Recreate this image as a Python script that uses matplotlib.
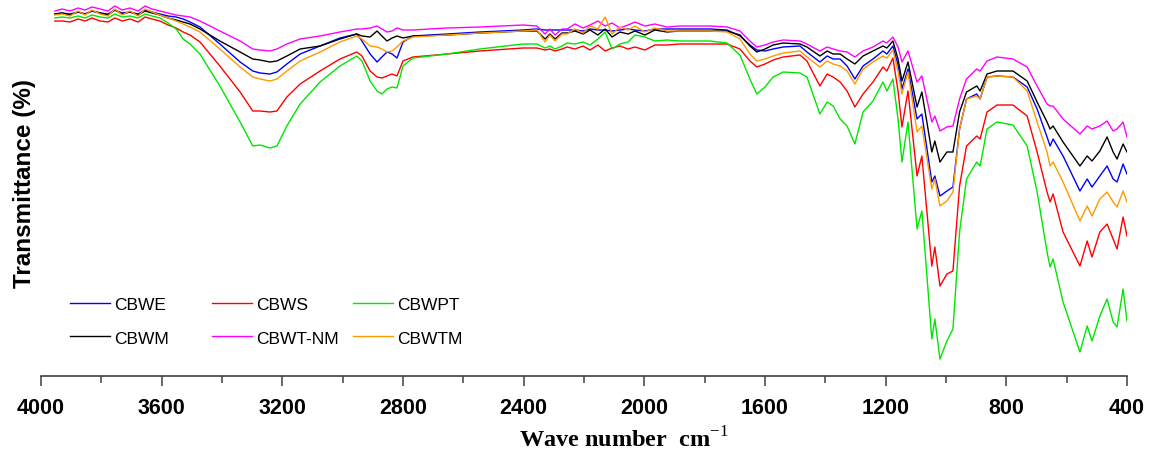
#!/usr/bin/env python3
"""FTIR spectra of the six CBW samples (transmittance vs wave number)."""

import matplotlib

matplotlib.use("Agg")

import matplotlib.pyplot as plt
from matplotlib.ticker import MultipleLocator

# wave numbers (cm-1), high -> low
wavenumber = [
    3954, 3930, 3904, 3877, 3854, 3831, 3804, 3778, 3755, 3731, 3705, 3678, 3655, 3632, 3606, 3579, 3552,
    3529, 3506,
    3473, 3407, 3340, 3298, 3274, 3241, 3218, 3185, 3141, 3075, 3009,
    2953, 2936, 2909, 2886, 2870, 2853, 2836, 2820, 2800, 2767,
    2654, 2545, 2402, 2356,
    2329, 2313, 2296, 2273,
    2256, 2230, 2203, 2180, 2154, 2130, 2107, 2081, 2054, 2031, 1998, 1965, 1925,
    1882, 1782, 1726,
    1683, 1650, 1627, 1600, 1573, 1540,
    1484, 1461, 1418, 1394, 1374, 1351, 1328, 1302, 1275, 1242,
    1209, 1196, 1176, 1159, 1146, 1126, 1096, 1080,
    1047, 1037, 1020, 997, 977, 955, 932, 898, 887, 864, 831,
    778, 731, 698, 665, 655, 645, 612,
    556, 532, 516, 490, 466, 446, 433, 413, 400,
]

# transmittance, arbitrary offset units (higher = more transmitting)
cbwe = [
    385, 386, 385, 387, 385, 388, 386, 385, 389, 386, 387, 385, 389, 387, 385, 383, 382,
    380, 377,
    372, 355, 337, 328, 326, 325, 327, 335, 345, 353, 361,
    365, 358, 345, 337, 342, 347, 345, 341, 357, 363,
    365, 367, 369, 370,
    369, 369, 369, 369,
    369, 369, 368, 370, 369, 369, 368, 369, 370, 369, 368, 370, 370,
    370, 370, 369,
    363, 354, 349, 348, 350, 352,
    353, 347, 337, 343, 340, 340, 333, 320, 333, 340,
    348, 345, 353, 334, 310, 330, 280, 285,
    217, 223, 203, 208, 212, 270, 300, 305, 300, 322, 323,
    322, 312, 290, 262, 253, 260, 243,
    208, 220, 212, 223, 233, 220, 217, 235, 225,
]
cbws = [
    378, 378, 377, 380, 378, 381, 378, 377, 381, 378, 380, 377, 382, 380, 378, 374, 371,
    367, 364,
    357, 333, 307, 288, 288, 287, 288, 302, 315, 328, 340,
    347, 343, 328, 322, 321, 323, 325, 323, 338, 342,
    345, 348, 351, 351,
    349, 350, 348, 350,
    352, 350, 353, 349, 354, 348, 351, 353, 350, 352, 349, 354, 354,
    355, 355, 355,
    350, 338, 332, 335, 339, 342,
    344, 338, 313, 325, 322, 317, 308, 292, 305, 317,
    332, 328, 341, 308, 272, 308, 223, 243,
    133, 152, 113, 125, 128, 213, 253, 263, 260, 287, 294,
    294, 283, 247, 207, 197, 205, 167,
    133, 158, 142, 167, 175, 160, 150, 182, 163,
]
cbwpt = [
    381, 382, 381, 383, 381, 384, 382, 381, 385, 382, 383, 381, 385, 383, 381, 376, 370,
    360, 355,
    345, 313, 277, 253, 254, 251, 253, 273, 295, 317, 333,
    343, 338, 318, 308, 305, 310, 312, 311, 333, 341,
    345, 350, 355, 355,
    351, 353, 350, 353,
    356, 355, 357, 354, 360, 367, 350, 355, 357, 364, 362, 358, 359,
    358, 358, 356,
    344, 320, 305, 312, 322, 327,
    326, 322, 285, 297, 293, 280, 273, 255, 287, 298,
    317, 308, 320, 280, 237, 277, 170, 188,
    60, 80, 40, 58, 70, 167, 220, 237, 233, 270, 277,
    274, 253, 207, 147, 132, 140, 97,
    47, 73, 58, 83, 100, 77, 72, 110, 78,
]
cbwm = [
    385, 386, 384, 387, 385, 388, 386, 384, 389, 385, 387, 384, 388, 386, 384, 381, 379,
    377, 375,
    370, 358, 347, 340, 339, 337, 338, 343, 350, 353, 360,
    365, 363, 362, 368, 363, 358, 361, 363, 361, 363,
    364, 366, 368, 368,
    360, 365, 360, 366,
    366, 368, 365, 369, 364, 370, 362, 367, 365, 368, 364, 369, 367,
    368, 368, 368,
    364, 353, 347, 350, 354, 356,
    355, 352, 343, 348, 345, 345, 340, 335, 343, 348,
    353, 351, 358, 340, 318, 337, 292, 307,
    247, 258, 237, 247, 247, 287, 307, 313, 308, 325, 328,
    328, 318, 297, 277, 270, 273, 257,
    233, 243, 238, 248, 262, 247, 240, 255, 247,
]
cbwt_nm = [
    388, 390, 388, 391, 389, 392, 390, 388, 393, 389, 391, 388, 393, 390, 388, 386, 384,
    383, 382,
    378, 368, 358, 350, 349, 348, 350, 355, 360, 363, 367,
    370, 370, 371, 373, 370, 367, 368, 371, 369, 369,
    371, 372, 374, 373,
    365, 370, 364, 370,
    370, 375, 371, 374, 378, 373, 376, 371, 374, 377, 373, 375, 372,
    373, 373, 372,
    368, 358, 352, 354, 357, 359,
    358, 355, 348, 352, 350, 348, 347, 342, 348, 352,
    358, 356, 362, 352, 337, 348, 317, 323,
    277, 283, 268, 272, 273, 300, 320, 330, 328, 338, 342,
    340, 332, 313, 295, 293, 293, 280,
    265, 273, 270, 273, 278, 268, 270, 277, 262,
]
cbwtm = [
    384, 385, 383, 388, 384, 389, 385, 383, 390, 384, 388, 383, 390, 387, 384, 381, 378,
    375, 372,
    367, 350, 332, 322, 320, 318, 320, 328, 338, 347, 357,
    363, 360, 353, 352, 350, 347, 348, 352, 358, 362,
    364, 366, 368, 369,
    357, 364, 358, 365,
    365, 370, 366, 373, 370, 382, 365, 372, 369, 373, 367, 371, 368,
    368, 368, 367,
    360, 345, 338, 340, 343, 346,
    348, 342, 332, 338, 335, 333, 328, 315, 330, 337,
    343, 341, 349, 328, 305, 327, 267, 273,
    210, 220, 193, 198, 207, 270, 300, 303, 300, 322, 323,
    322, 308, 277, 247, 233, 237, 217,
    178, 193, 183, 200, 207, 197, 192, 208, 197,
]

series = [
    ("CBWE", cbwe, "#0000ff"),
    ("CBWS", cbws, "#ff0000"),
    ("CBWPT", cbwpt, "#00e600"),
    ("CBWM", cbwm, "#000000"),
    ("CBWT-NM", cbwt_nm, "#ff00ff"),
    ("CBWTM", cbwtm, "#ff9900"),
]

plt.rcParams["font.family"] = ["Liberation Sans", "DejaVu Sans"]
plt.rcParams["mathtext.fontset"] = "custom"
plt.rcParams["mathtext.rm"] = "Liberation Serif"

W, H = 1153, 460
fig = plt.figure(figsize=(W / 100, H / 100), dpi=100)
ax = fig.add_axes([41 / W, 83 / H, 1086 / W, 377 / H])

lines = {}
for name, vals, col in series:
    (ln,) = ax.plot(wavenumber, vals, color=col, lw=1.0, label=name)
    lines[name] = ln

ax.set_xlim(4000, 400)
ax.set_ylim(23, 400)

for side in ("top", "right", "left"):
    ax.spines[side].set_visible(False)
ax.spines["bottom"].set_color("#404040")
ax.spines["bottom"].set_linewidth(1.2)

ax.xaxis.set_major_locator(MultipleLocator(400))
ax.xaxis.set_minor_locator(MultipleLocator(200))
ax.tick_params(axis="x", which="major", direction="out", length=7, width=1.1,
               color="#404040", pad=8, labelsize=15.5)
ax.tick_params(axis="x", which="minor", direction="out", length=5, width=1.1, color="#404040")
for lab in ax.get_xticklabels():
    lab.set_fontweight("bold")
ax.set_yticks([])

fig.text(25 / W, 1 - 183 / H, "Transmittance (%)", rotation=90, ha="center", va="center",
         fontsize=17.5, fontweight="bold")
fig.text(624 / W, 1 - 440 / H, r"Wave number  cm$^{-1}$", ha="center", va="center",
         fontsize=17.5, fontweight="bold", family="Liberation Serif")

# legend: three hand-placed columns, two rows each
columns = [("CBWE", "CBWM"), ("CBWS", "CBWT-NM"), ("CBWPT", "CBWTM")]
col_x = [70, 212, 353]
for names, x in zip(columns, col_x):
    fig.legend([lines[n] for n in names], list(names), loc="upper left",
               bbox_to_anchor=(x / W, 1 - 298 / H), frameon=False, borderpad=0,
               borderaxespad=0, handlelength=2.3, handletextpad=0.25, labelspacing=1.05,
               prop={"size": 12.5})

fig.savefig("out.png", dpi=100)
